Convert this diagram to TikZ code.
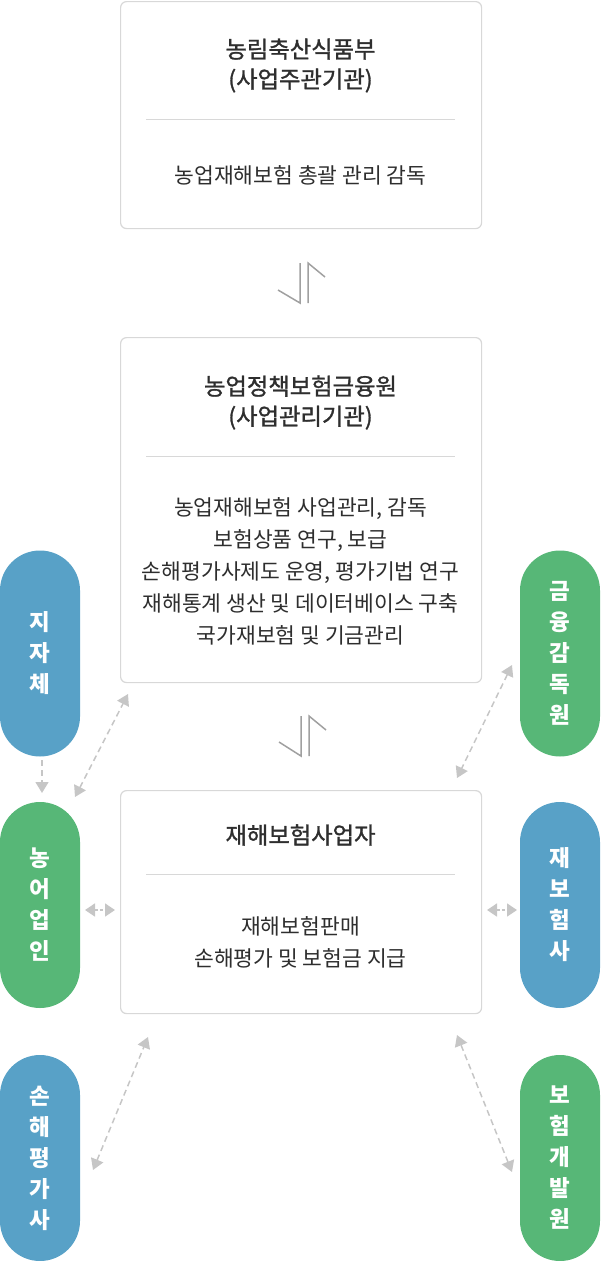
\documentclass[tikz,border=0pt]{standalone}
\usepackage{fontspec}
\newfontfamily\kr{Noto Sans CJK KR}
\newfontfamily\krm[FakeBold=1.2]{Noto Sans CJK KR}
\usetikzlibrary{arrows.meta}
\definecolor{pblue}{HTML}{58A1C7}
\definecolor{pgreen}{HTML}{57B777}
\definecolor{boxline}{HTML}{D8D8D8}
\definecolor{txt}{HTML}{2E2E2E}
\definecolor{dashc}{HTML}{C6C6C6}
\definecolor{harrow}{HTML}{A0A0A0}
\begin{document}
\begin{tikzpicture}[x=1pt,y=-1pt,
 card/.style={draw=boxline, line width=1.2pt, rounded corners=6pt, fill=white, minimum width=361pt, inner sep=0pt, anchor=north west},
 ttl/.style={font=\krm\fontsize{23.3}{30}\selectfont, text=txt, align=center, inner sep=0pt},
 bdy/.style={font=\kr\fontsize{21.5}{32}\selectfont, text=txt, align=center, inner sep=0pt},
 divider/.style={draw=boxline, line width=1pt},
 pill/.style={rounded corners=40pt, minimum width=80pt, minimum height=206pt, inner sep=0pt, text=white, align=center, font=\kr\bfseries\fontsize{22.5}{31}\selectfont},
 link/.style={draw=dashc, line width=1.5pt, dash pattern=on 6pt off 4pt, {Triangle[length=11pt,width=13pt]}-{Triangle[length=11pt,width=13pt]}},
 onelink/.style={draw=dashc, line width=1.5pt, dash pattern=on 6pt off 4pt, -{Triangle[length=11pt,width=13pt]}},
 shortlink/.style={draw=dashc, line width=1.5pt, dash pattern=on 3pt off 2pt, {Triangle[length=10pt,width=13pt]}-{Triangle[length=10pt,width=13pt]}},
 half/.style={draw=harrow, line width=1.5pt, line join=miter}
]
\useasboundingbox (0,0) rectangle (600,1261);

% ---------- boxes ----------
\node[card, minimum height=227pt] (b1) at (120,1) {};
\node[ttl] (b1t) at (300.5,65.5) {농림축산식품부\\(사업주관기관)};
\coordinate (b1l) at (146,119); \coordinate (b1r) at (455,119);
\draw[divider] (b1l) -- (b1r);
\node[bdy] (b1b) at (300.5,175) {농업재해보험 총괄 관리 감독};

\node[card, minimum height=345pt] (b2) at (120,337) {};
\node[ttl] (b2t) at (300.5,402.5) {농업정책보험금융원\\(사업관리기관)};
\coordinate (b2l) at (146,456); \coordinate (b2r) at (455,456);
\draw[divider] (b2l) -- (b2r);
\node[bdy] (b2b) at (300.5,571) {농업재해보험 사업관리, 감독\\보험상품 연구, 보급\\손해평가사제도 운영, 평가기법 연구\\재해통계 생산 및 데이터베이스 구축\\국가재보험 및 기금관리};

\node[card, minimum height=223pt] (b3) at (120,790) {};
\node[ttl] (b3t) at (300.5,835) {재해보험사업자};
\coordinate (b3l) at (146,874); \coordinate (b3r) at (455,874);
\draw[divider] (b3l) -- (b3r);
\node[bdy] (b3b) at (300.5,942.5) {재해보험판매\\손해평가 및 보험금 지급};

% ---------- half arrows between boxes ----------
\coordinate (h1a) at (278,290); \coordinate (h1b) at (300,303); \coordinate (h1c) at (300,263);
\coordinate (h1d) at (308,303); \coordinate (h1e) at (308,263); \coordinate (h1f) at (325,277);
\draw[half] (h1a) -- (h1b) -- (h1c);
\draw[half] (h1d) -- (h1e) -- (h1f);
\coordinate (h2a) at (279,742); \coordinate (h2b) at (301,756); \coordinate (h2c) at (301,716);
\coordinate (h2d) at (309,756); \coordinate (h2e) at (309,716); \coordinate (h2f) at (326,730);
\draw[half] (h2a) -- (h2b) -- (h2c);
\draw[half] (h2d) -- (h2e) -- (h2f);

% ---------- pills ----------
\node[pill, fill=pblue]  (jj) at (40,653.5) {지\\자\\체};
\node[pill, fill=pgreen] (gm) at (560,653.5) {금\\융\\감\\독\\원};
\node[pill, fill=pgreen] (ng) at (40,905) {농\\어\\업\\인};
\node[pill, fill=pblue]  (jb) at (560,905) {재\\보\\험\\사};
\node[pill, fill=pblue]  (sh) at (40,1158) {손\\해\\평\\가\\사};
\node[pill, fill=pgreen] (bh) at (560,1158) {보\\험\\개\\발\\원};

% ---------- dashed connectors ----------
\coordinate (c1s) at (42,760);  \coordinate (c1e) at (42,793);
\draw[onelink] (c1s) -- (c1e);
\coordinate (c2s) at (75,797);  \coordinate (c2e) at (128,694);
\draw[link] (c2s) -- (c2e);
\coordinate (c3s) at (512,665); \coordinate (c3e) at (457,778);
\draw[link] (c3s) -- (c3e);
\coordinate (c4s) at (85,910);  \coordinate (c4e) at (115,910);
\draw[shortlink] (c4s) -- (c4e);
\coordinate (c5s) at (487,910); \coordinate (c5e) at (517,910);
\draw[shortlink] (c5s) -- (c5e);
\coordinate (c6s) at (93,1170); \coordinate (c6e) at (148,1037);
\draw[link] (c6s) -- (c6e);
\coordinate (c7s) at (512,1172); \coordinate (c7e) at (457,1035);
\draw[link] (c7s) -- (c7e);
\end{tikzpicture}
\end{document}
